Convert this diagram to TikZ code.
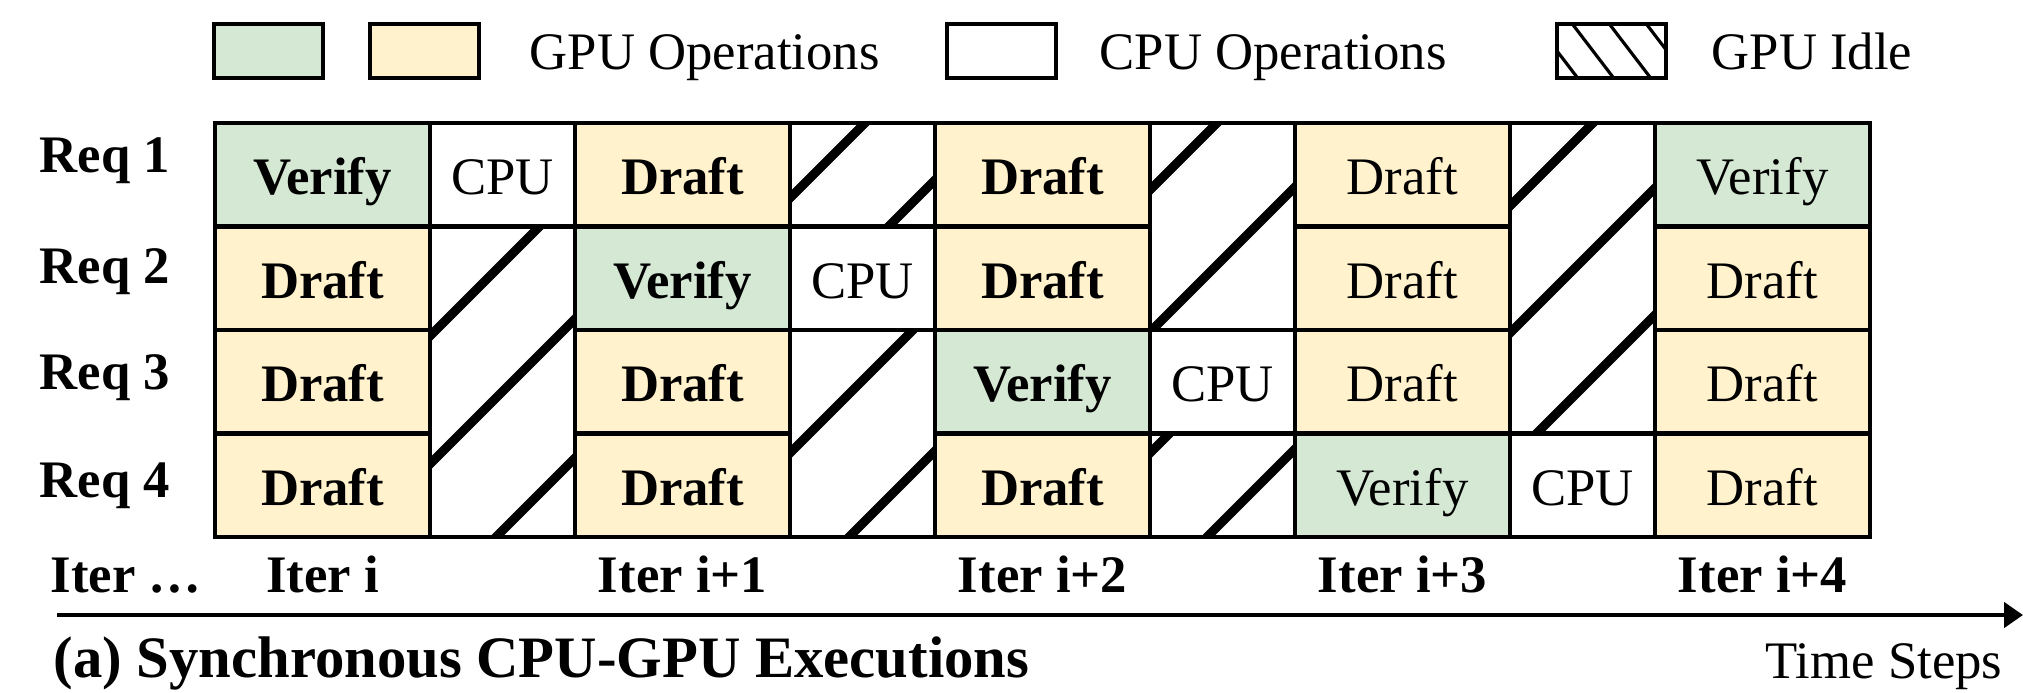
\documentclass[tikz,border=0pt]{standalone}
\usepackage{fontspec}
\setmainfont{Liberation Serif}
\usetikzlibrary{calc}
\usetikzlibrary{arrows.meta}
\definecolor{vgreen}{HTML}{D5E8D4}
\definecolor{dyellow}{HTML}{FFF2CC}
\newcommand{\cellfont}{\fontsize{15}{18}\selectfont}

\begin{document}
\begin{tikzpicture}[x=1cm, y=-1cm, font=\cellfont,
	cellbox/.style={draw, line width=1.3pt, inner sep=0pt, outer sep=0pt, minimum height=1.035cm, anchor=north west, text height=11.5pt, text depth=0pt},
	verifybox/.style={cellbox, minimum width=2.15cm, fill=vgreen},
	draftbox/.style={cellbox, minimum width=2.15cm, fill=dyellow},
	cpubox/.style={cellbox, minimum width=1.45cm, fill=white},
	idlebox/.style={cellbox, minimum width=1.45cm, fill=white},
	boldtxt/.style={font=\cellfont\bfseries},
	legbox/.style={draw, line width=1.2pt, inner sep=0pt, outer sep=0pt, minimum width=1.09cm, minimum height=0.54cm, anchor=north west},
	legtxt/.style={anchor=base west, inner sep=0pt},
	hatch/.style={line width=2.6pt},
	thinhatch/.style={line width=0.9pt}]
			\useasboundingbox (0,0) rectangle (20.23,6.92);

			% legend
			\node[legbox, fill=vgreen] (lgV) at (2.14,0.24) {};
			\node[legbox, fill=dyellow] (lgD) at (3.70,0.24) {};
			\node[legtxt] (lgGPU) at (5.29,0.69) {GPU Operations};
			\node[legbox] (lgC) at (9.47,0.24) {};
			\node[legtxt] (lgCPU) at (10.99,0.69) {CPU Operations};
			\node[legbox] (lgI) at (15.57,0.24) {};
			\node[legtxt] (lgIdle) at (17.11,0.69) {GPU Idle};
			\begin{scope}
				\clip (lgI.south west) rectangle (lgI.north east);
				\foreach \x in {15.37,15.73,16.10,16.47} \draw[thinhatch] ({\x-0.06},0.17) -- ({\x+0.46},0.85);
			\end{scope}
			\draw[line width=1.2pt] (lgI.south west) rectangle (lgI.north east);

			% requests
			\node[boldtxt, legtxt] (req1) at (0.39,1.72) {Req 1};
			\node[boldtxt, legtxt] (req2) at (0.39,2.83) {Req 2};
			\node[boldtxt, legtxt] (req3) at (0.39,3.89) {Req 3};
			\node[boldtxt, legtxt] (req4) at (0.39,4.97) {Req 4};

			\coordinate (g) at (2.15,1.23);

			% iter i
			\node[verifybox, boldtxt] (it0r1) at ($(g)+(0,0)$) {Verify};
			\node[draftbox, boldtxt] (it0r2) at ($(g)+(0,1.035)$) {Draft};
			\node[draftbox, boldtxt] (it0r3) at ($(g)+(0,2.07)$) {Draft};
			\node[draftbox, boldtxt] (it0r4) at ($(g)+(0,3.105)$) {Draft};
			\node[cpubox] (cpu0) at ($(g)+(2.15,0)$) {CPU};
			\node[idlebox, minimum height=3.105cm] (idle0) at ($(g)+(2.15,1.035)$) {};

			% iter i+1
			\node[draftbox, boldtxt] (it1r1) at ($(g)+(3.60,0)$) {Draft};
			\node[verifybox, boldtxt] (it1r2) at ($(g)+(3.60,1.035)$) {Verify};
			\node[draftbox, boldtxt] (it1r3) at ($(g)+(3.60,2.07)$) {Draft};
			\node[draftbox, boldtxt] (it1r4) at ($(g)+(3.60,3.105)$) {Draft};
			\node[idlebox] (idle1a) at ($(g)+(5.75,0)$) {};
			\node[cpubox] (cpu1) at ($(g)+(5.75,1.035)$) {CPU};
			\node[idlebox, minimum height=2.07cm] (idle1b) at ($(g)+(5.75,2.07)$) {};

			% iter i+2
			\node[draftbox, boldtxt] (it2r1) at ($(g)+(7.20,0)$) {Draft};
			\node[draftbox, boldtxt] (it2r2) at ($(g)+(7.20,1.035)$) {Draft};
			\node[verifybox, boldtxt] (it2r3) at ($(g)+(7.20,2.07)$) {Verify};
			\node[draftbox, boldtxt] (it2r4) at ($(g)+(7.20,3.105)$) {Draft};
			\node[idlebox, minimum height=2.07cm] (idle2a) at ($(g)+(9.35,0)$) {};
			\node[cpubox] (cpu2) at ($(g)+(9.35,2.07)$) {CPU};
			\node[idlebox] (idle2b) at ($(g)+(9.35,3.105)$) {};

			% iter i+3
			\node[draftbox] (it3r1) at ($(g)+(10.80,0)$) {Draft};
			\node[draftbox] (it3r2) at ($(g)+(10.80,1.035)$) {Draft};
			\node[draftbox] (it3r3) at ($(g)+(10.80,2.07)$) {Draft};
			\node[verifybox] (it3r4) at ($(g)+(10.80,3.105)$) {Verify};
			\node[idlebox, minimum height=3.105cm] (idle3) at ($(g)+(12.95,0)$) {};
			\node[cpubox] (cpu3) at ($(g)+(12.95,3.105)$) {CPU};

			% iter i+4
			\node[verifybox] (it4r1) at ($(g)+(14.40,0)$) {Verify};
			\node[draftbox] (it4r2) at ($(g)+(14.40,1.035)$) {Draft};
			\node[draftbox] (it4r3) at ($(g)+(14.40,2.07)$) {Draft};
			\node[draftbox] (it4r4) at ($(g)+(14.40,3.105)$) {Draft};

			% idle hatching
			\foreach \n/\ks in {idle0/{7.66,8.94,10.33}, idle1a/{9.88,11.15}, idle1b/{12.43,13.86}, idle2a/{13.40,14.82,16.28}, idle2b/{16.03,17.44}, idle3/{17.16,18.43,19.70}}{
				\begin{scope}
					\clip (\n.south west) rectangle (\n.north east);
					\foreach \k in \ks \draw[hatch] ({\k-6},6) -- ({\k-1},1);
				\end{scope}
				\draw[line width=1.3pt] (\n.south west) rectangle (\n.north east);
			}

			% iterations
			\node[boldtxt, legtxt] (itdots) at (0.50,5.92) {Iter …};
			\node[boldtxt, anchor=base] (lab0) at ($(it0r4.south)+(0,0.55)$) {Iter i};
			\node[boldtxt, anchor=base] (lab1) at ($(it1r4.south)+(0,0.55)$) {Iter i+1};
			\node[boldtxt, anchor=base] (lab2) at ($(it2r4.south)+(0,0.55)$) {Iter i+2};
			\node[boldtxt, anchor=base] (lab3) at ($(it3r4.south)+(0,0.55)$) {Iter i+3};
			\node[boldtxt, anchor=base] (lab4) at ($(it4r4.south)+(0,0.55)$) {Iter i+4};

			% time axis
			\coordinate (tl) at (0.57,6.15);
			\coordinate (tr) at (20.23,6.15);
			\draw[line width=1.3pt, -{Triangle[length=0.19cm, width=0.25cm]}] (tl) -- (tr);
			\node[anchor=base east, inner sep=0pt] (tsteps) at (20.03,6.78) {Time Steps};
			\node[anchor=base west, inner sep=0pt, font=\fontsize{16.7}{20}\selectfont\bfseries] (capt) at (0.53,6.77) {(a) Synchronous CPU-GPU Executions};

		\end{tikzpicture}
\end{document}
